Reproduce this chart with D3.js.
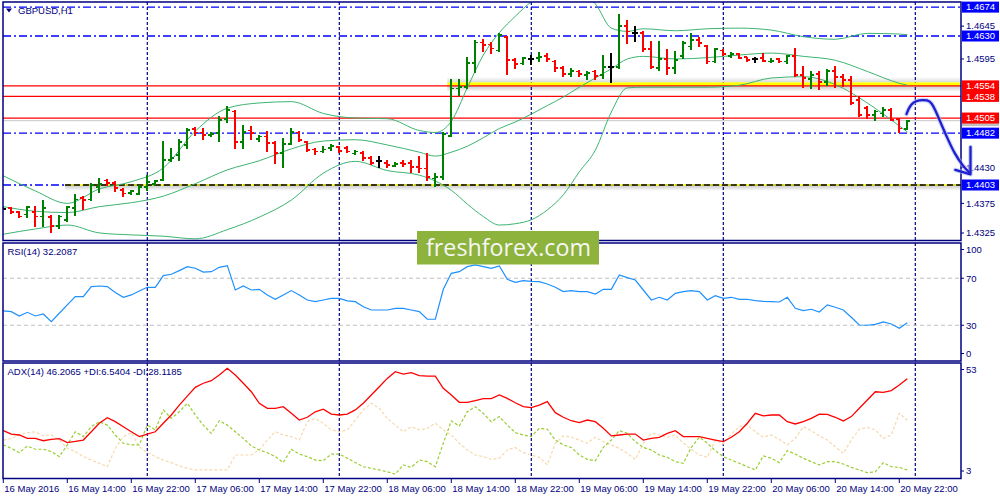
<!DOCTYPE html>
<html>
<head>
<meta charset="utf-8">
<script src="https://cdn.jsdelivr.net/npm/d3@7"></script>
<style>
body { margin: 0; background: #fff; }
svg { display: block; }
</style>
</head>
<body>
<svg id="chart" width="1000" height="500"></svg>
<script>
var barOpen = [1.4366,1.4368,1.4362,1.4358,1.4362,1.4355,1.4354,1.4340,1.4350,1.4368,1.4383,1.4381,1.4400,1.4410,1.4406,1.4395,1.4391,1.4389,1.4400,1.4405,
  1.4411,1.4441,1.4449,1.4464,1.4488,1.4483,1.4479,1.4482,1.4503,1.4515,1.4468,1.4486,1.4473,1.4477,1.4467,1.4452,1.4466,1.4483,1.4468,1.4457,
  1.4454,1.4459,1.4461,1.4459,1.4451,1.4452,1.4444,1.4439,1.4437,1.4432,1.4437,1.4436,1.4431,1.4428,1.4413,1.4415,1.4478,1.4550,1.4552,1.4589,
  1.4620,1.4617,1.4608,1.4628,1.4593,1.4588,1.4595,1.4596,1.4600,1.4591,1.4581,1.4572,1.4576,1.4571,1.4576,1.4571,1.4583,1.4583,1.4645,1.4634,
  1.4634,1.4610,1.4581,1.4595,1.4581,1.4600,1.4614,1.4624,1.4615,1.4591,1.4608,1.4600,1.4603,1.4598,1.4595,1.4596,1.4591,1.4595,1.4591,1.4600,
  1.4571,1.4564,1.4572,1.4560,1.4577,1.4568,1.4563,1.4533,1.4520,1.4510,1.4512,1.4517,1.4503,1.4488];
var barHigh = [1.4368,1.4369,1.4362,1.4371,1.4371,1.4380,1.4356,1.4356,1.4370,1.4388,1.4386,1.4405,1.4413,1.4412,1.4408,1.4398,1.4395,1.4403,1.4418,1.4410,
  1.4469,1.4459,1.4472,1.4489,1.4491,1.4489,1.4483,1.4507,1.4522,1.4516,1.4494,1.4492,1.4479,1.4484,1.4469,1.4474,1.4489,1.4484,1.4469,1.4459,
  1.4461,1.4464,1.4461,1.4461,1.4456,1.4454,1.4446,1.4446,1.4440,1.4437,1.4440,1.4440,1.4447,1.4451,1.4421,1.4483,1.4563,1.4563,1.4598,1.4623,
  1.4624,1.4620,1.4634,1.4629,1.4596,1.4598,1.4600,1.4605,1.4604,1.4592,1.4583,1.4581,1.4578,1.4576,1.4577,1.4601,1.4604,1.4662,1.4654,1.4645,
  1.4637,1.4621,1.4621,1.4610,1.4606,1.4621,1.4634,1.4627,1.4616,1.4611,1.4609,1.4605,1.4604,1.4598,1.4598,1.4604,1.4595,1.4596,1.4601,1.4611,
  1.4583,1.4576,1.4576,1.4579,1.4584,1.4571,1.4568,1.4538,1.4522,1.4517,1.4521,1.4520,1.4505,1.4501];
var barLow = [1.4365,1.4360,1.4354,1.4354,1.4340,1.4340,1.4330,1.4337,1.4347,1.4357,1.4365,1.4379,1.4392,1.4403,1.4393,1.4386,1.4389,1.4388,1.4395,1.4402,
  1.4410,1.4439,1.4441,1.4459,1.4479,1.4473,1.4477,1.4469,1.4498,1.4459,1.4459,1.4473,1.4469,1.4454,1.4436,1.4430,1.4464,1.4469,1.4454,1.4450,
  1.4452,1.4456,1.4452,1.4452,1.4449,1.4441,1.4434,1.4430,1.4430,1.4431,1.4431,1.4422,1.4422,1.4410,1.4400,1.4411,1.4477,1.4539,1.4550,1.4574,
  1.4606,1.4603,1.4606,1.4571,1.4581,1.4586,1.4587,1.4591,1.4591,1.4576,1.4568,1.4569,1.4569,1.4563,1.4563,1.4566,1.4559,1.4581,1.4619,1.4621,
  1.4606,1.4581,1.4578,1.4571,1.4573,1.4596,1.4609,1.4614,1.4588,1.4589,1.4600,1.4598,1.4595,1.4591,1.4590,1.4591,1.4589,1.4589,1.4588,1.4568,
  1.4552,1.4550,1.4549,1.4555,1.4552,1.4553,1.4525,1.4508,1.4505,1.4501,1.4507,1.4501,1.4483,1.4487];
var barClose = [1.4366,1.4362,1.4355,1.4370,1.4355,1.4368,1.4341,1.4355,1.4369,1.4381,1.4380,1.4403,1.4405,1.4406,1.4398,1.4390,1.4394,1.4400,1.4408,1.4409,
  1.4441,1.4444,1.4469,1.4487,1.4483,1.4479,1.4481,1.4502,1.4517,1.4468,1.4484,1.4482,1.4477,1.4467,1.4452,1.4466,1.4484,1.4471,1.4456,1.4454,
  1.4457,1.4462,1.4455,1.4454,1.4454,1.4444,1.4437,1.4439,1.4434,1.4435,1.4435,1.4431,1.4428,1.4415,1.4415,1.4481,1.4550,1.4552,1.4589,1.4620,
  1.4616,1.4611,1.4632,1.4593,1.4587,1.4596,1.4595,1.4598,1.4595,1.4581,1.4572,1.4577,1.4572,1.4574,1.4569,1.4583,1.4583,1.4645,1.4637,1.4634,
  1.4610,1.4583,1.4595,1.4581,1.4593,1.4619,1.4624,1.4619,1.4591,1.4610,1.4603,1.4603,1.4596,1.4593,1.4595,1.4592,1.4592,1.4591,1.4600,1.4571,
  1.4566,1.4571,1.4560,1.4577,1.4568,1.4563,1.4528,1.4510,1.4510,1.4515,1.4517,1.4502,1.4489,1.4501];

// Bollinger bands, sampled at these bars
var bandBars = [0,4,8,12,16,20,24,28,32,36,40,44,48,52,54,56,58,60,62,64,66,68,70,72,74,76,78,80,84,88,92,96,100,104,108,112,113];
var bandUpper = [1.4417,1.4394,1.4375,1.4397,1.4408,1.4429,1.4485,1.4520,1.4528,1.4530,1.4512,1.4505,1.4504,1.4486,
  1.4483,1.4500,1.4551,1.4601,1.4635,1.4660,1.4682,1.4694,1.4697,1.4694,1.4679,1.4642,1.4637,1.4641,
  1.4638,1.4641,1.4642,1.4639,1.4629,1.4625,1.4634,1.4633,1.4632];
var bandMiddle = [1.4370,1.4363,1.4361,1.4370,1.4376,1.4386,1.4405,1.4426,1.4440,1.4458,1.4470,1.4472,1.4464,1.4453,
  1.4447,1.4453,1.4462,1.4475,1.4489,1.4499,1.4511,1.4524,1.4537,1.4552,1.4566,1.4580,1.4595,1.4599,
  1.4595,1.4597,1.4601,1.4604,1.4599,1.4593,1.4576,1.4558,1.4555];
var bandLower = [1.4328,1.4336,1.4342,1.4330,1.4327,1.4325,1.4321,1.4335,1.4354,1.4380,1.4421,1.4439,1.4425,1.4418,
  1.4409,1.4395,1.4374,1.4355,1.4342,1.4344,1.4350,1.4365,1.4388,1.4423,1.4456,1.4514,1.4551,1.4552,
  1.4552,1.4552,1.4555,1.4566,1.4568,1.4556,1.4528,1.4493,1.4484];

var rsiValues = [42.2,41.6,37.9,41.0,37.9,39.6,33.1,40.2,47.3,54.3,54.3,62.9,63.4,62.9,57.8,53.8,55.8,59.2,62.3,62.3,
  72.2,73.4,76.5,79.9,78.5,75.3,75.6,79.3,80.7,60.0,63.4,60.0,60.6,55.8,52.1,55.8,59.5,55.8,51.5,50.1,
  51.5,52.9,52.9,50.7,50.1,45.8,43.0,43.0,43.0,44.4,44.4,43.0,41.6,35.1,35.1,60.6,74.2,75.6,79.9,81.3,
  79.9,78.5,80.4,69.1,66.5,68.0,67.4,67.1,65.1,62.3,58.6,59.5,58.6,58.6,56.6,60.6,60.6,72.8,70.5,68.5,
  60.0,51.5,53.8,51.5,57.2,58.6,59.5,58.6,51.5,55.2,52.9,53.8,52.1,52.1,50.9,50.4,50.1,49.8,53.8,44.4,
  42.4,43.6,41.3,47.3,45.3,43.0,36.8,30.2,30.0,30.8,32.8,31.1,27.4,32.2];
var rsiLevels = [70, 30];
var rsiTicks = [100, 70, 30, 0];

var adxValues = [23.6,22.1,21.7,20.2,20.2,19.2,19.8,20.1,18.4,18.9,19.5,23.1,26.8,29.2,27.5,25.3,23.1,21.0,22.1,23.1,
  26.8,30.4,34.7,38.6,42.4,44.2,45.3,47.8,50.7,47.8,44.2,40.5,35.5,33.3,33.3,34.0,31.1,28.2,29.4,31.8,
  32.9,30.8,30.4,30.8,32.6,35.5,39.1,42.7,46.3,49.2,48.2,48.8,47.5,47.3,47.3,42.0,39.1,35.9,35.9,36.6,
  37.5,37.5,39.1,37.6,35.7,34.0,33.6,34.7,36.2,31.4,29.4,27.9,27.1,28.2,27.5,24.6,21.3,21.7,22.1,22.1,
  19.5,20.2,20.7,22.4,23.6,21.0,21.0,21.0,20.2,19.5,18.8,20.7,23.1,26.8,31.1,30.0,30.4,30.4,27.5,26.5,
  27.5,28.9,30.8,30.7,29.4,27.8,29.7,33.3,36.9,40.5,40.2,41.0,43.4,46.2];
var plusDI = [17.4,15.9,14.0,16.9,15.5,15.5,14.5,12.3,17.4,23.1,21.0,25.3,27.5,26.0,21.7,18.1,17.4,17.4,26.0,23.9,
  32.6,28.9,31.8,35.5,30.4,26.0,22.4,27.9,26.0,23.1,20.2,16.9,15.2,14.0,12.3,9.7,15.5,13.4,12.3,10.8,
  10.5,13.4,13.4,11.6,9.7,7.9,7.2,6.5,5.7,4.7,8.7,7.6,10.8,10.1,7.9,18.1,27.8,25.6,31.8,34.0,
  31.1,27.5,29.7,26.0,22.7,21.7,21.0,24.6,24.2,19.5,17.4,16.3,13.0,11.1,10.5,16.3,19.5,23.6,22.4,18.8,
  16.3,15.2,13.0,12.0,10.1,9.4,16.3,20.7,18.1,14.9,12.3,10.8,9.4,7.9,6.5,12.6,11.6,9.7,14.9,13.4,
  11.6,10.1,8.7,10.1,10.1,9.1,7.6,6.5,5.3,5.7,9.7,7.9,7.6,6.5];
var minusDI = [19.5,20.2,21.7,22.7,23.1,21.3,21.7,19.5,15.9,14.5,12.3,10.8,9.4,7.9,15.9,21.0,22.7,16.6,14.0,12.3,
  10.8,9.7,8.2,7.2,6.5,6.5,6.5,6.5,6.5,13.0,13.0,13.0,15.2,19.5,23.1,21.7,21.0,19.5,27.5,28.9,
  26.8,23.9,23.1,23.9,28.2,32.6,35.5,33.3,28.9,26.0,23.1,25.3,23.9,24.6,26.8,23.9,21.7,18.1,15.2,13.0,
  12.3,11.1,11.6,15.2,16.3,14.0,13.0,12.0,8.7,18.1,21.3,20.7,19.5,18.1,20.7,18.8,17.4,15.9,13.7,11.1,
  18.1,22.4,21.7,20.7,21.7,18.1,15.5,13.0,12.0,19.5,17.8,22.1,25.3,26.0,23.1,20.7,21.7,19.8,17.4,20.2,
  25.3,23.6,21.3,19.5,16.6,13.7,19.5,24.2,25.0,23.9,20.2,21.7,31.1,28.1];
var adxTicks = [53, 3];

// drawn objects
var redLevels = [1.4554, 1.4538, 1.4505];
var blueLevels = [1.4674, 1.4630, 1.4482, 1.4403];
var bidPrice = 1.4501;
var zonePrice = 1.4554, zoneFromBar = 55.5;
var supportPrice = 1.4403, supportFromBar = 7.7;
var priceTicks = [1.4645, 1.4595, 1.4430, 1.4375, 1.4325];
var daySeparators = [18, 42, 66, 90, 114];
var timeLabels = ["16 May 2016","16 May 14:00","16 May 22:00","17 May 06:00","17 May 14:00","17 May 22:00","18 May 06:00",
  "18 May 14:00","18 May 22:00","19 May 06:00","19 May 14:00","19 May 22:00","20 May 06:00","20 May 14:00","20 May 22:00"];
var arrowBars = [112.9,113.25,113.75,114.4,115.6,116.05,116.7,117.3,118.1,118.9,120.0,120.75];
var arrowPrices = [1.4511,1.4522,1.4529,1.45325,1.45325,1.4528,1.4512,1.4494,1.4472,1.4451,1.4431,1.4422];
var arrowHeadBars = [119.0, 120.9, 120.9];
var arrowHeadPrices = [1.4426, 1.44193, 1.4461];

var svg = d3.select("#chart");
var navy = "#000080";
var font = "'Liberation Sans', Arial, sans-serif";
var left = 3, right = 961;
var panels = {
  main: {top: 2, bottom: 240.5},
  rsi: {top: 243, bottom: 361},
  adx: {top: 363, bottom: 478.5}
};

var x = d3.scaleLinear().domain([0, 113]).range([3.3, 907.3]);
var y = d3.scaleLinear().domain([1.4403, 1.4630]).range([185, 36]);
var yRsi = d3.scaleLinear().domain([0, 100]).range([360.5, 243]);
var yAdx = d3.scaleLinear().domain([3, 53]).range([478, 363]);

var defs = svg.append("defs");
Object.keys(panels).forEach(function(k) {
  var p = panels[k];
  defs.append("clipPath").attr("id", "clip-" + k)
    .append("rect").attr("x", left).attr("y", p.top)
    .attr("width", right - left).attr("height", p.bottom - p.top);
});
var down = defs.append("linearGradient").attr("id", "shadeDown")
  .attr("x1", 0).attr("y1", 0).attr("x2", 0).attr("y2", 1);
down.append("stop").attr("offset", "0%").attr("stop-color", "#000").attr("stop-opacity", 0.22);
down.append("stop").attr("offset", "100%").attr("stop-color", "#000").attr("stop-opacity", 0);
var up = defs.append("linearGradient").attr("id", "shadeUp")
  .attr("x1", 0).attr("y1", 1).attr("x2", 0).attr("y2", 0);
up.append("stop").attr("offset", "0%").attr("stop-color", "#000").attr("stop-opacity", 0.15);
up.append("stop").attr("offset", "100%").attr("stop-color", "#000").attr("stop-opacity", 0);

var gMain = svg.append("g").attr("clip-path", "url(#clip-main)");
var gRsi = svg.append("g").attr("clip-path", "url(#clip-rsi)");
var gAdx = svg.append("g").attr("clip-path", "url(#clip-adx)");

// day separators
[[gMain, panels.main], [gRsi, panels.rsi], [gAdx, panels.adx]].forEach(function(a) {
  a[0].selectAll(".sep").data(daySeparators).enter().append("line")
    .attr("x1", function(d) { return x(d); }).attr("x2", function(d) { return x(d); })
    .attr("y1", a[1].top).attr("y2", a[1].bottom)
    .attr("stroke", navy).attr("stroke-width", 1.2).attr("stroke-dasharray", "3,2");
});

// --- main window objects ---
gMain.selectAll(".blue").data(blueLevels).enter().append("line")
  .attr("x1", left).attr("x2", right)
  .attr("y1", function(d) { return y(d); }).attr("y2", function(d) { return y(d); })
  .attr("stroke", "#0000ff").attr("stroke-width", 1.3).attr("stroke-dasharray", "8,3,2,3");

gMain.append("line").attr("x1", left).attr("x2", right)
  .attr("y1", y(bidPrice)).attr("y2", y(bidPrice))
  .attr("stroke", "#c8c8c8").attr("stroke-width", 1);

// support line with shadow
var sx = x(supportFromBar), sy = y(supportPrice);
gMain.append("rect").attr("x", sx).attr("y", sy).attr("width", right - sx).attr("height", 6)
  .attr("fill", "url(#shadeDown)");
gMain.append("line").attr("x1", sx).attr("x2", right).attr("y1", sy).attr("y2", sy)
  .attr("stroke", "#ffff00").attr("stroke-width", 1.5);
gMain.append("line").attr("x1", sx).attr("x2", right).attr("y1", sy).attr("y2", sy)
  .attr("stroke", "#000").attr("stroke-width", 1.5).attr("stroke-dasharray", "6,3");

// yellow zone
var zx = x(zoneFromBar), zy = y(zonePrice);
gMain.append("rect").attr("x", zx).attr("y", zy - 9).attr("width", right - zx).attr("height", 5.5)
  .attr("fill", "url(#shadeUp)");
gMain.append("rect").attr("x", zx).attr("y", zy).attr("width", right - zx).attr("height", 6)
  .attr("fill", "url(#shadeDown)");
gMain.append("rect").attr("x", zx).attr("y", zy - 3.5).attr("width", right - zx).attr("height", 3.5)
  .attr("fill", "#ffff00");

gMain.selectAll(".red").data(redLevels).enter().append("line")
  .attr("x1", left).attr("x2", right)
  .attr("y1", function(d) { return y(d); }).attr("y2", function(d) { return y(d); })
  .attr("stroke", "#ff0000").attr("stroke-width", 1.2);

// Bollinger bands
var bandLine = d3.line()
  .x(function(d) { return x(d[0]); })
  .y(function(d) { return y(d[1]); })
  .curve(d3.curveMonotoneX);
[bandUpper, bandMiddle, bandLower].forEach(function(band) {
  gMain.append("path")
    .datum(bandBars.map(function(b, i) { return [b, band[i]]; }))
    .attr("d", bandLine)
    .attr("fill", "none").attr("stroke", "#3cb371").attr("stroke-width", 1);
});

// OHLC bars
var bars = barOpen.map(function(o, i) {
  return {i: i, o: o, h: barHigh[i], l: barLow[i], c: barClose[i]};
});
var gBar = gMain.selectAll(".bar").data(bars).enter().append("g")
  .attr("stroke", function(d) { return d.c > d.o ? "#008000" : (d.c < d.o ? "#ff0000" : "#000"); })
  .attr("stroke-width", 1.8)
  .attr("shape-rendering", "crispEdges");
gBar.append("line")
  .attr("x1", function(d) { return x(d.i); }).attr("x2", function(d) { return x(d.i); })
  .attr("y1", function(d) { return y(d.h) - 0.5; }).attr("y2", function(d) { return y(d.l) + 0.5; });
gBar.append("line")
  .attr("x1", function(d) { return x(d.i) - 3; }).attr("x2", function(d) { return x(d.i); })
  .attr("y1", function(d) { return y(d.o); }).attr("y2", function(d) { return y(d.o); });
gBar.append("line")
  .attr("x1", function(d) { return x(d.i); }).attr("x2", function(d) { return x(d.i) + 3; })
  .attr("y1", function(d) { return y(d.c); }).attr("y2", function(d) { return y(d.c); });

// --- RSI window ---
gRsi.selectAll(".lvl").data(rsiLevels).enter().append("line")
  .attr("x1", left).attr("x2", right)
  .attr("y1", function(d) { return yRsi(d); }).attr("y2", function(d) { return yRsi(d); })
  .attr("stroke", "#c0c0c0").attr("stroke-width", 1).attr("stroke-dasharray", "4,3");
gRsi.append("path").datum(rsiValues)
  .attr("d", d3.line().x(function(d, i) { return x(i); }).y(function(d) { return yRsi(d); }))
  .attr("fill", "none").attr("stroke", "#1e90ff").attr("stroke-width", 1.2);

// --- ADX window ---
var adxLine = d3.line().x(function(d, i) { return x(i); }).y(function(d) { return yAdx(d); });
gAdx.append("path").datum(minusDI).attr("d", adxLine)
  .attr("fill", "none").attr("stroke", "#f5d9ad").attr("stroke-width", 1.2).attr("stroke-dasharray", "3,2");
gAdx.append("path").datum(plusDI).attr("d", adxLine)
  .attr("fill", "none").attr("stroke", "#9acd32").attr("stroke-width", 1.2).attr("stroke-dasharray", "3,2");
gAdx.append("path").datum(adxValues).attr("d", adxLine)
  .attr("fill", "none").attr("stroke", "#ff0000").attr("stroke-width", 1.3);

// panel borders
Object.keys(panels).forEach(function(k) {
  var p = panels[k];
  svg.append("rect").attr("x", left).attr("y", p.top)
    .attr("width", right - left).attr("height", p.bottom - p.top)
    .attr("fill", "none").attr("stroke", navy).attr("stroke-width", 1.5);
});

// right price axis
function axisLabels(values, scale, p, fmt) {
  values.forEach(function(v) {
    var py = Math.max(p.top + 6.5, Math.min(p.bottom - 7.5, scale(v)));
    svg.append("line").attr("x1", right).attr("x2", right + 3).attr("y1", py).attr("y2", py)
      .attr("stroke", navy).attr("stroke-width", 1);
    svg.append("text").attr("x", right + 5).attr("y", py).attr("dy", "0.35em")
      .attr("font-family", font).attr("font-size", 9.5).attr("fill", navy).text(fmt(v));
  });
}
axisLabels(priceTicks, y, panels.main, d3.format(".4f"));
axisLabels(rsiTicks, yRsi, panels.rsi, String);
axisLabels(adxTicks, yAdx, panels.adx, String);

function priceBox(p, bg, fg) {
  svg.append("rect").attr("x", right + 1).attr("y", y(p) - 5.5).attr("width", 37).attr("height", 11)
    .attr("fill", bg);
  if (fg) {
    svg.append("text").attr("x", right + 5).attr("y", y(p)).attr("dy", "0.35em")
      .attr("font-family", font).attr("font-size", 9.5).attr("fill", fg)
      .text(d3.format(".4f")(p));
  }
}
// bid label sits almost fully under the 1.4505 box, only its grey edge shows
priceBox(bidPrice, "#c0c0c0", null);
redLevels.forEach(function(p) { priceBox(p, "#ff0000", "#fff"); });
blueLevels.forEach(function(p) { priceBox(p, "#0000ff", "#fff"); });

// time axis
var gTime = svg.append("g").selectAll("g").data(timeLabels).enter().append("g");
gTime.append("line")
  .attr("x1", function(d, k) { return x(k * 8); }).attr("x2", function(d, k) { return x(k * 8); })
  .attr("y1", panels.adx.bottom).attr("y2", panels.adx.bottom + 4.5)
  .attr("stroke", navy).attr("stroke-width", 1);
gTime.append("text")
  .attr("x", function(d, k) { return x(k * 8) + 1; }).attr("y", 491.5)
  .attr("font-family", font).attr("font-size", 9.5).attr("fill", navy)
  .text(function(d) { return d; });

// window titles
svg.append("path").attr("d", "M6,8.5 L12,8.5 L9,12.5 Z").attr("fill", navy);
svg.append("text").attr("x", 18).attr("y", 10.7).attr("dy", "0.35em")
  .attr("font-family", font).attr("font-size", 9.5).attr("fill", navy).text("GBPUSD,H1");
svg.append("text").attr("x", 7.5).attr("y", 251.7).attr("dy", "0.35em")
  .attr("font-family", font).attr("font-size", 9.5).attr("fill", navy).text("RSI(14) 32.2087");
svg.append("text").attr("x", 7.5).attr("y", 371.7).attr("dy", "0.35em")
  .attr("font-family", font).attr("font-size", 9.5).attr("fill", navy)
  .text("ADX(14) 46.2065 +DI:6.5404 -DI:28.1185");

// watermark
svg.append("rect").attr("x", 417).attr("y", 231).attr("width", 182).attr("height", 33.5)
  .attr("fill", "#8db33c");
svg.append("text").attr("x", 426).attr("y", 256.3)
  .attr("font-family", "'Open Sans', sans-serif").attr("font-size", 24)
  .attr("textLength", 165).attr("lengthAdjust", "spacingAndGlyphs")
  .attr("fill", "#f6f6f6").text("freshforex.com");

// hand-drawn forecast arrow
var arrowPts = arrowBars.map(function(b, i) { return [x(b), y(arrowPrices[i])]; });
var headPts = arrowHeadBars.map(function(b, i) { return [x(b), y(arrowHeadPrices[i])]; });
var curve = d3.line().curve(d3.curveBasis);
[["#aab4f0", 4.5, 0.6], ["#1f1fd0", 2.3, 1]].forEach(function(s) {
  svg.append("path").attr("d", curve(arrowPts))
    .attr("fill", "none").attr("stroke", s[0]).attr("stroke-width", s[1]).attr("opacity", s[2])
    .attr("stroke-linecap", "round");
  svg.append("path").attr("d", d3.line()(headPts))
    .attr("fill", "none").attr("stroke", s[0]).attr("stroke-width", s[1]).attr("opacity", s[2])
    .attr("stroke-linecap", "round").attr("stroke-linejoin", "round");
});
</script>
</body>
</html>
